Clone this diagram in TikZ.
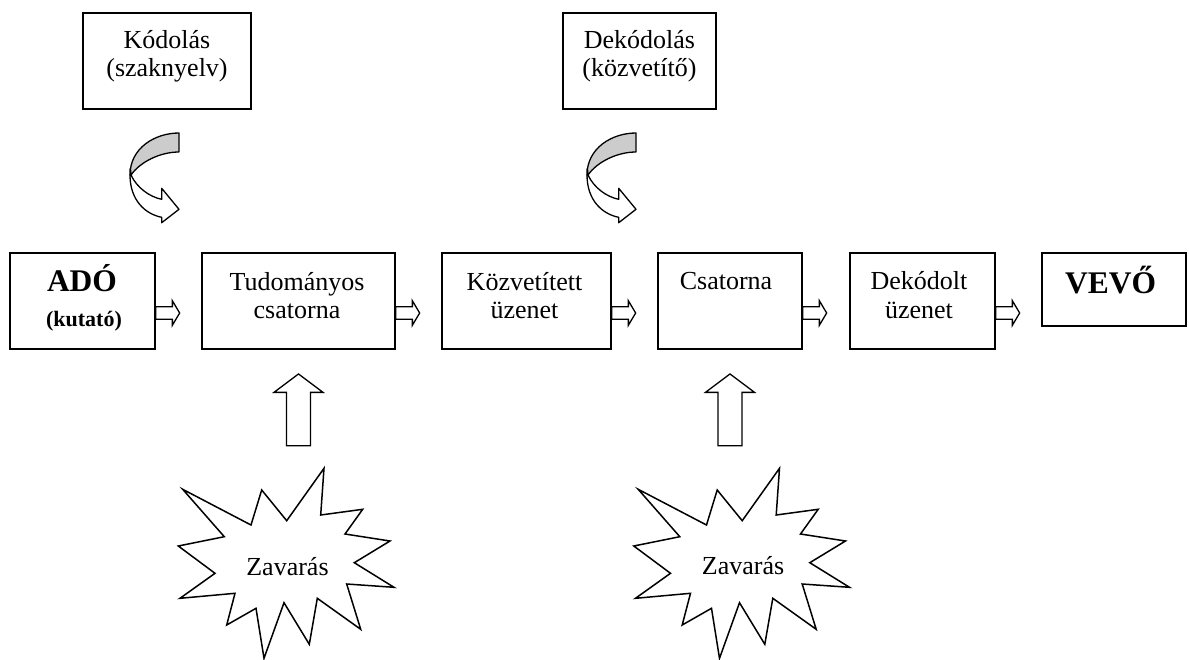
\documentclass[tikz,border=0pt]{standalone}
\usepackage{fontspec}
\setmainfont{Liberation Serif}
\tikzset{
  box/.style={draw=black, line width=1.3pt, fill=white, inner sep=0pt},
  txt/.style={inner sep=0pt, anchor=base, font=\fontsize{26}{28.5}\selectfont},
  bigtxt/.style={inner sep=0pt, anchor=base, font=\fontsize{31.5}{34}\selectfont\bfseries},
  smalltxt/.style={inner sep=0pt, anchor=base, font=\fontsize{22}{24}\selectfont\bfseries},
  blk/.style={draw=black, line width=1.3pt, fill=white, line join=miter},
  expl/.style={draw=black, line width=1.5pt, fill=white, line join=miter},
  curv/.style={draw=black, line width=1.3pt, line join=round},
}
\newcommand\rightblock[1]{\draw[blk] (#1) -- ++(0,-6.3) -- ++(16.7,0) -- ++(0,-6) -- ++(7.3,12.3) -- ++(-7.3,12.3) -- ++(0,-6) -- ++(-16.7,0) -- ++(0,-6.3);}
\newcommand\upblock[1]{\draw[blk] (#1) -- ++(24.5,18.4) -- ++(-12.5,0) -- ++(0,53.3) -- ++(-24,0) -- ++(0,-53.3) -- ++(-12.5,0) -- cycle;}
\newcommand\curvedarr[1]{%
  \begin{scope}[xshift=#1]
    \draw[curv, fill=black!20] (179,133) -- (179,152) .. controls (160,152) and (140,162) .. (131,175)
      .. controls (130,160) and (130,175) .. (130,175) .. controls (130,148) and (155,133) .. (179,133) -- cycle;
    \draw[curv, fill=white] (130,175) .. controls (130,200) and (145,214) .. (161.7,217.3) -- (161.7,222.7) -- (179,209.3)
      -- (161.7,188.3) -- (161.7,199.3) .. controls (150,197) and (137,188) .. (131,175) -- cycle;
  \end{scope}}
\newcommand\explosion[1]{%
  \begin{scope}[xshift=#1]
    \draw[expl] (324,468.3) -- (320.7,515) -- (362.7,509.3) -- (345,534) -- (390,541) -- (354.3,562.7)
      -- (394,587.3) -- (346.7,584) -- (360.7,629.3) -- (317.3,598.3) -- (309.3,644.3) -- (284,602.7)
      -- (264,658.3) -- (256,608.3) -- (226.7,625) -- (235,593.3) -- (180,598.3) -- (215,573.3)
      -- (178.3,546) -- (224.3,536.7) -- (182.7,489.3) -- (251,525) -- (261.7,490) -- (286.7,520.7) -- cycle;
  \end{scope}}
\begin{document}
\begin{tikzpicture}[x=1pt,y=-1pt]
\useasboundingbox (0,0) rectangle (1189,659);
\fill[white] (0,0) rectangle (1189,659);

% top boxes
\node[box, minimum width=168pt, minimum height=96pt] (kod) at (167,61) {};
\node[txt] (kodt1) at (167,48.3) {Kódolás};
\node[txt] (kodt2) at (167,76.3) {(szaknyelv)};
\node[box, minimum width=153pt, minimum height=96pt] (dekod) at (639.5,61) {};
\node[txt] (dekodt1) at (639.5,48.3) {Dekódolás};
\node[txt] (dekodt2) at (639.5,76) {(közvetítő)};

% main row
\node[box, minimum width=145pt, minimum height=96pt] (ado) at (82.5,301) {};
\node[bigtxt] (adot1) at (82,291.7) {ADÓ};
\node[smalltxt] (adot2) at (84,326) {(kutató)};
\node[box, minimum width=193pt, minimum height=96pt] (tud) at (298.5,301) {};
\node[txt] (tudt1) at (297,290) {Tudományos};
\node[txt] (tudt2) at (297,318.3) {csatorna};
\node[box, minimum width=169pt, minimum height=96pt] (koz) at (526.5,301) {};
\node[txt] (kozt1) at (524.5,290) {Közvetített};
\node[txt] (kozt2) at (524.5,318.3) {üzenet};
\node[box, minimum width=144pt, minimum height=96pt] (csat) at (730,301) {};
\node[txt] (csatt1) at (726,289.3) {Csatorna};
\node[box, minimum width=145pt, minimum height=96pt] (dek) at (922.5,301) {};
\node[txt] (dekt1) at (919,289.3) {Dekódolt};
\node[txt] (dekt2) at (919,318.3) {üzenet};
\node[box, minimum width=144pt, minimum height=73pt] (vevo) at (1114,289.5) {};
\node[bigtxt] (vevot) at (1110.5,293.3) {VEVŐ};

% block arrows between boxes
\rightblock{[yshift=-12pt]ado.east}
\rightblock{[yshift=-12pt]tud.east}
\rightblock{[yshift=-12pt]koz.east}
\rightblock{[yshift=-12pt]csat.east}
\rightblock{[yshift=-12pt]dek.east}

% curved arrows
\curvedarr{0pt}
\curvedarr{457pt}

% noise
\explosion{0pt}
\explosion{455.5pt}
\node[txt] (z1) at (287.5,575) {Zavarás};
\node[txt] (z2) at (743,574.5) {Zavarás};

% up arrows
\upblock{[yshift=-24.3pt]tud.south}
\upblock{[yshift=-24.3pt]csat.south}
\end{tikzpicture}
\end{document}
